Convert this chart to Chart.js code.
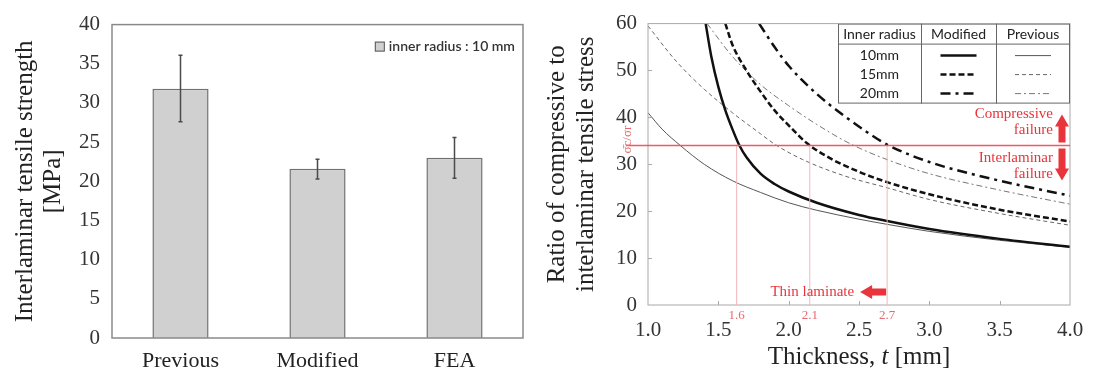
<!DOCTYPE html>
<html>
<head>
<meta charset="utf-8">
<script src="https://cdn.jsdelivr.net/npm/chart.js"></script>
<style>
  html, body { margin: 0; padding: 0; background: #fff; }
  body { width: 1106px; height: 374px; position: relative; overflow: hidden; }
  canvas { position: absolute; top: 0; }
  #bar-chart { left: 0; }
  #ratio-chart { left: 540px; }
</style>
</head>
<body>
<canvas id="bar-chart" width="540" height="374"></canvas>
<canvas id="ratio-chart" width="566" height="374"></canvas>
<script>
// left panel: interlaminar tensile strength
const barCategories = ['Previous', 'Modified', 'FEA'];
const barValues = [31.8, 21.6, 23.0];
const errLow = [27.6, 20.3, 20.4];
const errHigh = [36.1, 22.8, 25.6];

// right panel: ratio vs thickness
const mod10T = [1.41, 1.45, 1.5, 1.55, 1.6, 1.65, 1.7, 1.8, 1.9, 2.0, 2.2, 2.5, 2.7, 3.0, 3.5, 4.0];
const mod10R = [60, 53, 46.5, 41.5, 37.5, 34, 31.5, 28, 25.8, 24.2, 21.8, 19.2, 17.9, 16.2, 14.1, 12.4];
const mod15T = [1.55, 1.6, 1.7, 1.8, 1.9, 2.0, 2.13, 2.3, 2.5, 2.7, 3.0, 3.5, 4.0];
const mod15R = [60, 55.5, 50, 45.5, 41.5, 38.3, 34.5, 31.2, 28.4, 26.2, 23.6, 20.3, 17.8];
const mod20T = [1.79, 1.9, 2.0, 2.2, 2.4, 2.55, 2.7, 3.0, 3.5, 4.0];
const mod20R = [60, 55, 51, 45, 40.2, 37, 34.2, 30.5, 26.5, 23.3];
const prev10T = [1.0, 1.1, 1.23, 1.4, 1.6, 1.8, 2.0, 2.2, 2.5, 2.7, 3.0, 3.5, 4.0];
const prev10R = [41, 37.5, 34, 30, 26.5, 24, 21.8, 20.2, 18.3, 17.2, 15.7, 13.8, 12.3];
const prev15T = [1.0, 1.2, 1.4, 1.6, 1.8, 1.9, 2.1, 2.4, 2.7, 3.0, 3.5, 4.0];
const prev15R = [59.5, 52, 46, 41, 36.5, 34.3, 31, 27.5, 25, 22.5, 19.5, 17];
const prev20T = [1.42, 1.6, 1.8, 2.0, 2.2, 2.43, 2.7, 3.0, 3.5, 4.0];
const prev20R = [60, 53, 47, 42.5, 38.5, 34.5, 31, 28, 24.5, 21.5];

const ratioLimit = 34;
const critThickness = [1.63, 2.15, 2.7];
const critLabels = ['1.6', '2.1', '2.7'];
const xTicksRight = [1.0, 1.5, 2.0, 2.5, 3.0, 3.5, 4.0];
const radiusRows = ['10mm', '15mm', '20mm'];

const SERIF = '"Liberation Serif", "Times New Roman", serif';
const SANS = 'Lato, "Open Sans", sans-serif';
const RED = '#e8343a';

// frame around the plot area
const frame = (color, width) => ({
  id: 'frame',
  afterDraw(chart) {
    const { ctx, chartArea: a } = chart;
    ctx.save();
    ctx.strokeStyle = color;
    ctx.lineWidth = width;
    ctx.strokeRect(a.left, a.top, a.right - a.left, a.bottom - a.top);
    ctx.restore();
  }
});

const errorBars = {
  id: 'errorBars',
  afterDatasetsDraw(chart) {
    const { ctx, scales: { x, y } } = chart;
    ctx.save();
    ctx.strokeStyle = '#4a4a4a';
    ctx.lineWidth = 1.5;
    barCategories.forEach((c, i) => {
      const px = x.getPixelForValue(i);
      const y0 = y.getPixelForValue(errLow[i]);
      const y1 = y.getPixelForValue(errHigh[i]);
      ctx.beginPath();
      ctx.moveTo(px, y0); ctx.lineTo(px, y1);
      ctx.moveTo(px - 2, y0); ctx.lineTo(px + 2, y0);
      ctx.moveTo(px - 2, y1); ctx.lineTo(px + 2, y1);
      ctx.stroke();
    });
    ctx.restore();
  }
};

// legend box in the top-right corner of the plot
const barLegend = {
  id: 'barLegend',
  afterDraw(chart) {
    const { ctx, chartArea: a } = chart;
    const ds = chart.data.datasets[0];
    ctx.save();
    ctx.font = '600 14px ' + SANS;
    const w = ctx.measureText(ds.label).width;
    const tx = a.right - 8 - w;
    const ly = a.top + 22;
    ctx.fillStyle = ds.backgroundColor;
    ctx.strokeStyle = '#555';
    ctx.lineWidth = 1;
    ctx.fillRect(tx - 14, ly - 5, 10, 10);
    ctx.strokeRect(tx - 13.5, ly - 4.5, 9, 9);
    ctx.fillStyle = '#333';
    ctx.textBaseline = 'middle';
    ctx.fillText(ds.label, tx, ly);
    ctx.restore();
  }
};

new Chart(document.getElementById('bar-chart'), {
  type: 'bar',
  data: {
    labels: barCategories,
    datasets: [{
      label: 'inner radius : 10 mm',
      data: barValues,
      backgroundColor: '#d0d0d0',
      borderColor: '#707070',
      borderWidth: 1.5,
      categoryPercentage: 1,
      barPercentage: 0.41
    }]
  },
  options: {
    responsive: false,
    animation: false,
    layout: { padding: { top: 21, right: 17, left: 0, bottom: 0 } },
    plugins: { legend: { display: false }, tooltip: { enabled: false } },
    scales: {
      x: {
        grid: { display: false, drawTicks: false },
        border: { display: false },
        ticks: { color: '#222', font: { family: SERIF, size: 22 }, padding: 10 },
        afterFit: (s) => { s.height = 36; }
      },
      y: {
        min: 0,
        max: 40,
        grid: { display: false, drawTicks: false },
        border: { display: false },
        ticks: { stepSize: 5, color: '#333', font: { family: SERIF, size: 21 }, padding: 12 },
        title: {
          display: true,
          text: ['Interlaminar tensile strength', '[MPa]'],
          color: '#222',
          font: { family: SERIF, size: 25, lineHeight: 1.1 },
          padding: { top: 12 }
        },
        afterFit: (s) => { s.width = 112; }
      }
    }
  },
  plugins: [frame('#8a8a8a', 1.5), errorBars, barLegend]
});

// right chart decorations
const ratioDecor = {
  id: 'ratioDecor',
  afterDraw(chart) {
    const { ctx, chartArea: a, scales: { x, y } } = chart;
    ctx.save();

    // small inside ticks
    ctx.strokeStyle = '#aaa';
    ctx.lineWidth = 1;
    ctx.beginPath();
    xTicksRight.slice(1, -1).forEach(v => {
      const px = Math.round(x.getPixelForValue(v)) + 0.5;
      ctx.moveTo(px, a.bottom); ctx.lineTo(px, a.bottom - 4);
    });
    [10, 20, 30, 40, 50].forEach(v => {
      const py = Math.round(y.getPixelForValue(v)) + 0.5;
      ctx.moveTo(a.left, py); ctx.lineTo(a.left + 4, py);
    });
    ctx.stroke();

    // critical ratio line
    const yr = y.getPixelForValue(ratioLimit);
    ctx.strokeStyle = '#f2b8bb';
    ctx.lineWidth = 1;
    ctx.beginPath();
    critThickness.forEach(t => {
      const px = x.getPixelForValue(t);
      ctx.moveTo(px, a.bottom); ctx.lineTo(px, yr);
    });
    ctx.stroke();
    ctx.strokeStyle = '#ee5a5f';
    ctx.lineWidth = 1.5;
    ctx.beginPath();
    ctx.moveTo(a.left - 22, yr); ctx.lineTo(a.right, yr);
    ctx.stroke();

    // sigma ratio mark
    ctx.fillStyle = '#e46a6e';
    ctx.save();
    ctx.translate(a.left - 20, yr - 6);
    ctx.rotate(-Math.PI / 2);
    ctx.font = '13px ' + SERIF;
    ctx.textAlign = 'center';
    ctx.textBaseline = 'middle';
    ctx.fillText('σ\u0304c/σr', 0, 0);
    ctx.restore();

    ctx.font = '13px ' + SERIF;
    ctx.textAlign = 'center';
    ctx.textBaseline = 'middle';
    critThickness.forEach((t, i) => {
      ctx.fillText(critLabels[i], x.getPixelForValue(t), a.bottom + 11);
    });

    // failure mode notes
    ctx.fillStyle = RED;
    ctx.font = '15px ' + SERIF;
    ctx.textAlign = 'right';
    ctx.fillText('Compressive', a.right - 17, yr - 31);
    ctx.fillText('failure', a.right - 17, yr - 15);
    ctx.fillText('Interlaminar', a.right - 17, yr + 13);
    ctx.fillText('failure', a.right - 17, yr + 29);
    const ax = a.right - 8;
    ctx.beginPath();
    ctx.moveTo(ax - 3.5, yr - 3); ctx.lineTo(ax + 3.5, yr - 3); ctx.lineTo(ax + 3.5, yr - 19);
    ctx.lineTo(ax + 7, yr - 19); ctx.lineTo(ax, yr - 31); ctx.lineTo(ax - 7, yr - 19);
    ctx.lineTo(ax - 3.5, yr - 19); ctx.closePath();
    ctx.moveTo(ax - 3.5, yr + 3); ctx.lineTo(ax + 3.5, yr + 3); ctx.lineTo(ax + 3.5, yr + 23);
    ctx.lineTo(ax + 7, yr + 23); ctx.lineTo(ax, yr + 35); ctx.lineTo(ax - 7, yr + 23);
    ctx.lineTo(ax - 3.5, yr + 23); ctx.closePath();
    ctx.fill();

    // thin laminate note
    const ty = a.bottom - 13;
    const tx = x.getPixelForValue(2.7);
    ctx.font = '15px ' + SERIF;
    ctx.fillText('Thin laminate', tx - 33, ty);
    ctx.beginPath();
    ctx.moveTo(tx - 1, ty - 3.5); ctx.lineTo(tx - 15, ty - 3.5); ctx.lineTo(tx - 15, ty - 7);
    ctx.lineTo(tx - 27, ty); ctx.lineTo(tx - 15, ty + 7); ctx.lineTo(tx - 15, ty + 3.5);
    ctx.lineTo(tx - 1, ty + 3.5); ctx.closePath();
    ctx.fill();

    // legend table
    const x0 = a.right - 232, x1 = a.right, y0 = a.top, y1 = a.top + 80;
    const c1 = x0 + 83, c2 = x0 + 158;
    ctx.fillStyle = '#fff';
    ctx.fillRect(x0, y0, x1 - x0, y1 - y0);
    ctx.strokeStyle = '#666';
    ctx.lineWidth = 1;
    ctx.strokeRect(x0 + 0.5, y0 + 0.5, x1 - x0 - 1, y1 - y0 - 1);
    ctx.beginPath();
    ctx.moveTo(x0, y0 + 20.5); ctx.lineTo(x1, y0 + 20.5);
    ctx.moveTo(c1 + 0.5, y0); ctx.lineTo(c1 + 0.5, y1);
    ctx.moveTo(c2 + 0.5, y0); ctx.lineTo(c2 + 0.5, y1);
    ctx.stroke();
    ctx.fillStyle = '#222';
    ctx.font = '14px ' + SANS;
    ctx.textAlign = 'center';
    ctx.fillText('Inner radius', (x0 + c1) / 2, y0 + 11);
    ctx.fillText('Modified', (c1 + c2) / 2, y0 + 11);
    ctx.fillText('Previous', (c2 + x1) / 2, y0 + 11);
    const ds = chart.data.datasets;
    radiusRows.forEach((r, i) => {
      const ry = y0 + 32 + i * 19;
      ctx.fillStyle = '#222';
      ctx.fillText(r, (x0 + c1) / 2, ry);
      [ds[i], ds[i + 3]].forEach((d, k) => {
        const cx = k === 0 ? (c1 + c2) / 2 : (c2 + x1) / 2;
        ctx.strokeStyle = d.borderColor;
        ctx.lineWidth = d.borderWidth;
        ctx.setLineDash(d.borderDash || []);
        ctx.beginPath();
        ctx.moveTo(cx - 18, ry); ctx.lineTo(cx + 18, ry);
        ctx.stroke();
      });
      ctx.setLineDash([]);
    });

    // x axis title with italic t
    const parts = [['Thickness, ', ''], ['t', 'italic '], [' [mm]', '']];
    ctx.fillStyle = '#222';
    ctx.textAlign = 'left';
    let total = 0;
    parts.forEach(p => { ctx.font = p[1] + '25px ' + SERIF; total += ctx.measureText(p[0]).width; });
    let cx = (a.left + a.right) / 2 - total / 2;
    parts.forEach(p => {
      ctx.font = p[1] + '25px ' + SERIF;
      ctx.fillText(p[0], cx, 357);
      cx += ctx.measureText(p[0]).width;
    });
    ctx.restore();
  }
};

const curve = (label, ts, rs, width, dash, color) => ({
  label,
  data: ts.map((t, i) => ({ x: t, y: rs[i] })),
  showLine: true,
  borderColor: color,
  borderWidth: width,
  borderDash: dash,
  pointRadius: 0,
  cubicInterpolationMode: 'monotone',
  fill: false
});

new Chart(document.getElementById('ratio-chart'), {
  type: 'scatter',
  data: {
    datasets: [
      curve('Modified 10mm', mod10T, mod10R, 2.5, [], '#111'),
      curve('Modified 15mm', mod15T, mod15R, 2.5, [6, 3], '#111'),
      curve('Modified 20mm', mod20T, mod20R, 2.5, [10, 5, 3, 5], '#111'),
      curve('Previous 10mm', prev10T, prev10R, 1, [], '#555'),
      curve('Previous 15mm', prev15T, prev15R, 1, [4, 3], '#666'),
      curve('Previous 20mm', prev20T, prev20R, 1, [6, 3, 2, 3], '#777')
    ]
  },
  options: {
    responsive: false,
    animation: false,
    layout: { padding: { top: 20, right: 36, left: 0, bottom: 0 } },
    plugins: { legend: { display: false }, tooltip: { enabled: false } },
    scales: {
      x: {
        type: 'linear',
        min: 1,
        max: 4,
        grid: { display: false, drawTicks: false },
        border: { display: false },
        ticks: {
          stepSize: 0.5,
          color: '#333',
          font: { family: SERIF, size: 21 },
          padding: 13,
          callback: (v) => v.toFixed(1)
        },
        afterFit: (s) => { s.height = 69; }
      },
      y: {
        min: 0,
        max: 60,
        grid: { display: false, drawTicks: false },
        border: { display: false },
        ticks: { stepSize: 10, color: '#333', font: { family: SERIF, size: 21 }, padding: 11 },
        title: {
          display: true,
          text: ['Ratio of compressive to', 'interlaminar tensile stress'],
          color: '#222',
          font: { family: SERIF, size: 25, lineHeight: 1.15 },
          padding: { top: 3 }
        },
        afterFit: (s) => { s.width = 108; }
      }
    }
  },
  plugins: [frame('#a8a8a8', 1), ratioDecor]
});
</script>
</body>
</html>
